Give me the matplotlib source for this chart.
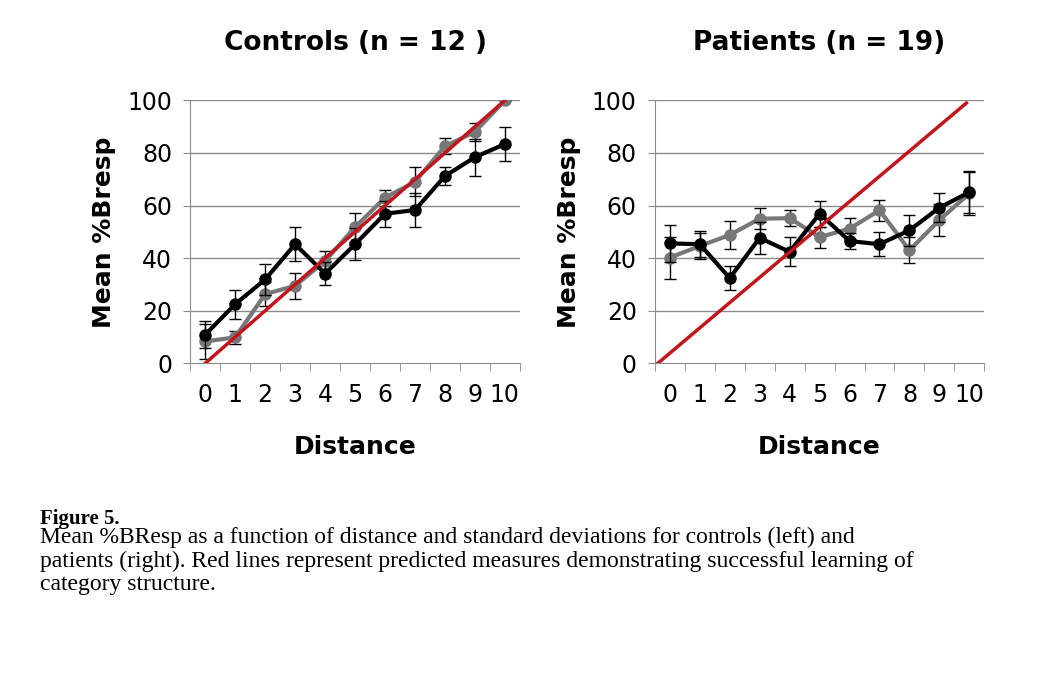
import matplotlib.pyplot as plt
import numpy as np

distance = np.arange(11)

ctrl_black = [10.9, 22.5, 31.9, 45.3, 34.1, 45.3, 56.9, 58.3, 71.2, 78.4, 83.4]
ctrl_black_err = [5, 5.5, 6, 6.5, 4.5, 6, 5, 6.5, 3.5, 7, 6.5]
ctrl_grey = [8.3, 9.9, 26.3, 29.5, 38.9, 51.8, 63, 69, 82.6, 88, 100]
ctrl_grey_err = [6.5, 2.5, 4.5, 5, 4, 5.5, 3, 5.5, 3, 3.5, 0]

pat_black = [45.6, 45.3, 32.4, 47.7, 42.4, 56.9, 46.5, 45.3, 50.6, 59.2, 65.1]
pat_black_err = [7, 5, 4.5, 6, 5.5, 5, 3, 4.5, 6, 5.5, 8]
pat_grey = [40.2, 44.6, 48.8, 55, 55.2, 48, 51.2, 58.2, 43, 54.5, 64.6]
pat_grey_err = [8, 5, 5.5, 4, 3, 4, 4, 4, 5, 6, 8]

ctrl_red = ([0, 10], [0, 100])
pat_red = ([-0.4, 9.9], [0, 99])

fig = plt.figure(figsize=(10.63, 6.74), dpi=100)

def panel(rect, title, black, black_err, grey, grey_err, red):
    ax = fig.add_axes(rect)
    for y in range(20, 101, 20):
        ax.axhline(y, color='#8c8c8c', lw=1, zorder=0)
    ax.errorbar(distance, grey, yerr=grey_err, color='#777777', ecolor='black',
                elinewidth=1, capsize=4, marker='o', ms=8, lw=3, zorder=2)
    ax.errorbar(distance, black, yerr=black_err, color='black', ecolor='black',
                elinewidth=1, capsize=4, marker='o', ms=8, lw=3, zorder=3)
    ax.plot(red[0], red[1], color='#c0161c', lw=2.5, zorder=4)
    ax.set_xlim(-0.5, 10.5)
    ax.set_ylim(0, 100)
    ax.set_xticks(distance)
    ax.set_xticks(np.arange(-0.5, 11, 1), minor=True)
    ax.tick_params(axis='x', which='major', length=0, pad=14, labelsize=17)
    ax.tick_params(axis='x', which='minor', length=6, color='#8c8c8c', direction='out')
    ax.set_yticks(range(0, 101, 20))
    ax.tick_params(axis='y', length=5, color='#8c8c8c', labelsize=17, pad=8)
    for s in ['top', 'right']:
        ax.spines[s].set_visible(False)
    for s in ['left', 'bottom']:
        ax.spines[s].set_color('#8c8c8c')
    ax.set_title(title, fontsize=19, fontweight='bold', pad=36)
    ax.set_xlabel('Distance', fontsize=18, fontweight='bold', labelpad=20)
    ax.set_ylabel('Mean %Bresp', fontsize=18, fontweight='bold', labelpad=8)
    return ax

panel([0.179, 0.461, 0.31, 0.39], 'Controls (n = 12 )',
      ctrl_black, ctrl_black_err, ctrl_grey, ctrl_grey_err, ctrl_red)
panel([0.616, 0.461, 0.31, 0.39], 'Patients (n = 19)',
      pat_black, pat_black_err, pat_grey, pat_grey_err, pat_red)

fig.text(0.038, 0.222, 'Figure 5.', family='Liberation Serif', fontsize=15, fontweight='bold')
fig.text(0.038, 0.218,
         'Mean %BResp as a function of distance and standard deviations for controls (left) and\n'
         'patients (right). Red lines represent predicted measures demonstrating successful learning of\n'
         'category structure.',
         family='Liberation Serif', fontsize=17, linespacing=1.15, va='top')

fig.savefig('out.png', dpi=100)
